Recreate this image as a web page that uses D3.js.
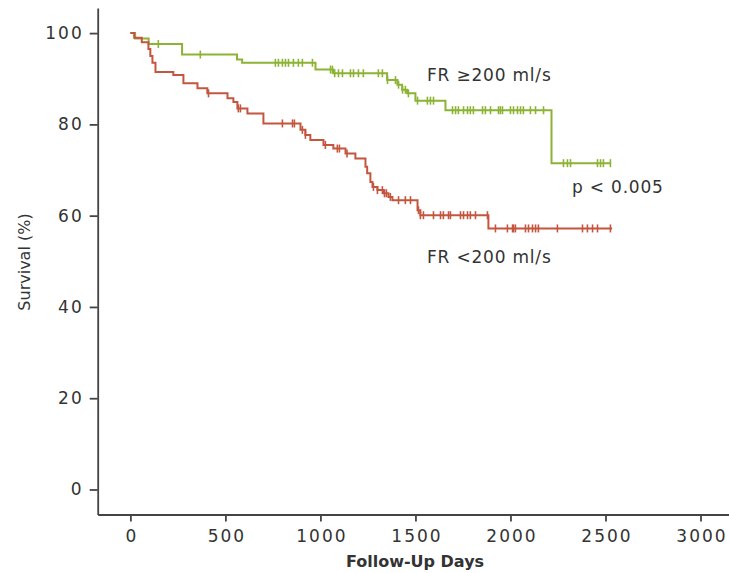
<!DOCTYPE html>
<html><head><meta charset="utf-8">
<script src="https://cdn.jsdelivr.net/npm/d3@7"></script>
<style>
html,body{margin:0;padding:0;background:#fff;}
svg{display:block;}
text{font-family:"DejaVu Sans",sans-serif;fill:#333;}
</style></head>
<body>
<svg id="chart" width="729" height="573"></svg>
<script>
// Kaplan-Meier steps: [day, survival %]
const greenSteps = [[0,100],[25,98.8],[96,97.6],[272,95.3],[561,94.2],[588,93.5],[974,92.0],[1068,91.2],[1351,89.7],[1405,88.7],[1430,87.6],[1456,86.8],[1500,85.2],[1658,83.1],[2216,71.5]];
const greenEnd = 2526;
const greenCensor = [147,368,763,779,800,816,832,858,884,905,958,1053,1063,1075,1095,1116,1158,1174,1200,1226,1305,1326,1353,1395,1411,1432,1447,1463,1511,1563,1579,1595,1695,1711,1726,1753,1774,1789,1805,1853,1868,1895,1937,1947,1958,2000,2016,2037,2053,2068,2105,2132,2174,2279,2300,2316,2458,2474,2489,2526];

const redSteps = [[0,100],[20,99.0],[60,98.0],[95,96.5],[105,95.0],[116,93.5],[132,91.5],[226,90.8],[279,89.0],[353,87.9],[405,86.8],[511,85.7],[542,84.9],[563,83.5],[616,82.4],[700,80.2],[895,78.8],[921,77.7],[947,76.6],[1016,75.5],[1068,74.7],[1132,73.6],[1184,72.5],[1237,70.7],[1246,69.3],[1263,67.4],[1274,66.3],[1300,65.6],[1332,64.9],[1358,64.1],[1379,63.4],[1511,61.2],[1526,60.1],[1884,57.2]];
const redEnd = 2535;
const redCensor = [411,568,579,800,853,863,905,921,1026,1089,1100,1140,1279,1300,1326,1337,1347,1368,1411,1447,1474,1516,1526,1542,1595,1632,1647,1674,1684,1737,1753,1774,1789,1816,1879,1921,1984,2011,2016,2026,2079,2095,2116,2132,2147,2247,2379,2405,2432,2458,2526];

const xTicks = [0,500,1000,1500,2000,2500,3000];
const yTicks = [0,20,40,60,80,100];
const labels = {green:"FR ≥200 ml/s", red:"FR <200 ml/s", p:"p < 0.005", x:"Follow-Up Days", y:"Survival (%)"};

const GREEN = "#8cb334", RED = "#c4553f", AXIS = "#444";

const svg = d3.select("#chart");
const x = d3.scaleLinear().domain([-172, 3150]).range([97.7, 729]);
const y = d3.scaleLinear().domain([-5.48, 105.5]).range([514.5, 8]);

// axes
const gx = svg.append("g").attr("transform","translate(0,514.5)")
  .call(d3.axisBottom(x).tickValues(xTicks).tickSizeOuter(0).tickSizeInner(7).tickPadding(8).tickFormat(d3.format("d")));
const gy = svg.append("g").attr("transform","translate(97.7,0)")
  .call(d3.axisLeft(y).tickValues(yTicks).tickSizeOuter(0).tickSizeInner(8).tickPadding(8).tickFormat(d3.format("d")));
[gx,gy].forEach(g=>{
  g.selectAll("path.domain").attr("stroke",AXIS).attr("stroke-width",1.8);
  g.selectAll(".tick line").attr("stroke",AXIS).attr("stroke-width",1.8);
  g.selectAll(".tick text").attr("fill","#333").style("font-family","DejaVu Sans, sans-serif").style("font-size","17px").style("letter-spacing","2px");
});
gx.selectAll(".tick text").attr("dx","1px");
gy.selectAll(".tick text").attr("dx","2px");

// survival curves
function survAt(steps, t){ let s = steps[0][1]; for (const [d,v] of steps){ if (d<=t) s=v; } return s; }
function drawGroup(steps, end, censor, color){
  const pts = steps.concat([[end, steps[steps.length-1][1]]]);
  const line = d3.line().x(d=>x(d[0])).y(d=>y(d[1])).curve(d3.curveStepAfter);
  svg.append("path").datum(pts).attr("d",line).attr("fill","none").attr("stroke",color).attr("stroke-width",2);
  svg.append("g").selectAll("line").data(censor).join("line")
    .attr("x1",d=>x(d)).attr("x2",d=>x(d))
    .attr("y1",d=>y(survAt(steps,d))-4).attr("y2",d=>y(survAt(steps,d))+4)
    .attr("stroke",color).attr("stroke-width",1.6);
}
drawGroup(greenSteps, greenEnd, greenCensor, GREEN);
drawGroup(redSteps, redEnd, redCensor, RED);

// annotations
svg.append("text").attr("x",427).attr("y",81).style("font-size","17px").style("letter-spacing","0.8px").text(labels.green);
svg.append("text").attr("x",427).attr("y",263).style("font-size","17px").style("letter-spacing","0.8px").text(labels.red);
svg.append("text").attr("x",572).attr("y",193).style("font-size","17px").style("letter-spacing","0.8px").text(labels.p);

// axis titles
svg.append("text").attr("x",415).attr("y",567).attr("text-anchor","middle").style("font-size","16px").style("font-weight","bold").text(labels.x);
svg.append("text").attr("transform","translate(30,262) rotate(-90)").attr("text-anchor","middle").style("font-size","16px").text(labels.y);
</script>
</body></html>
